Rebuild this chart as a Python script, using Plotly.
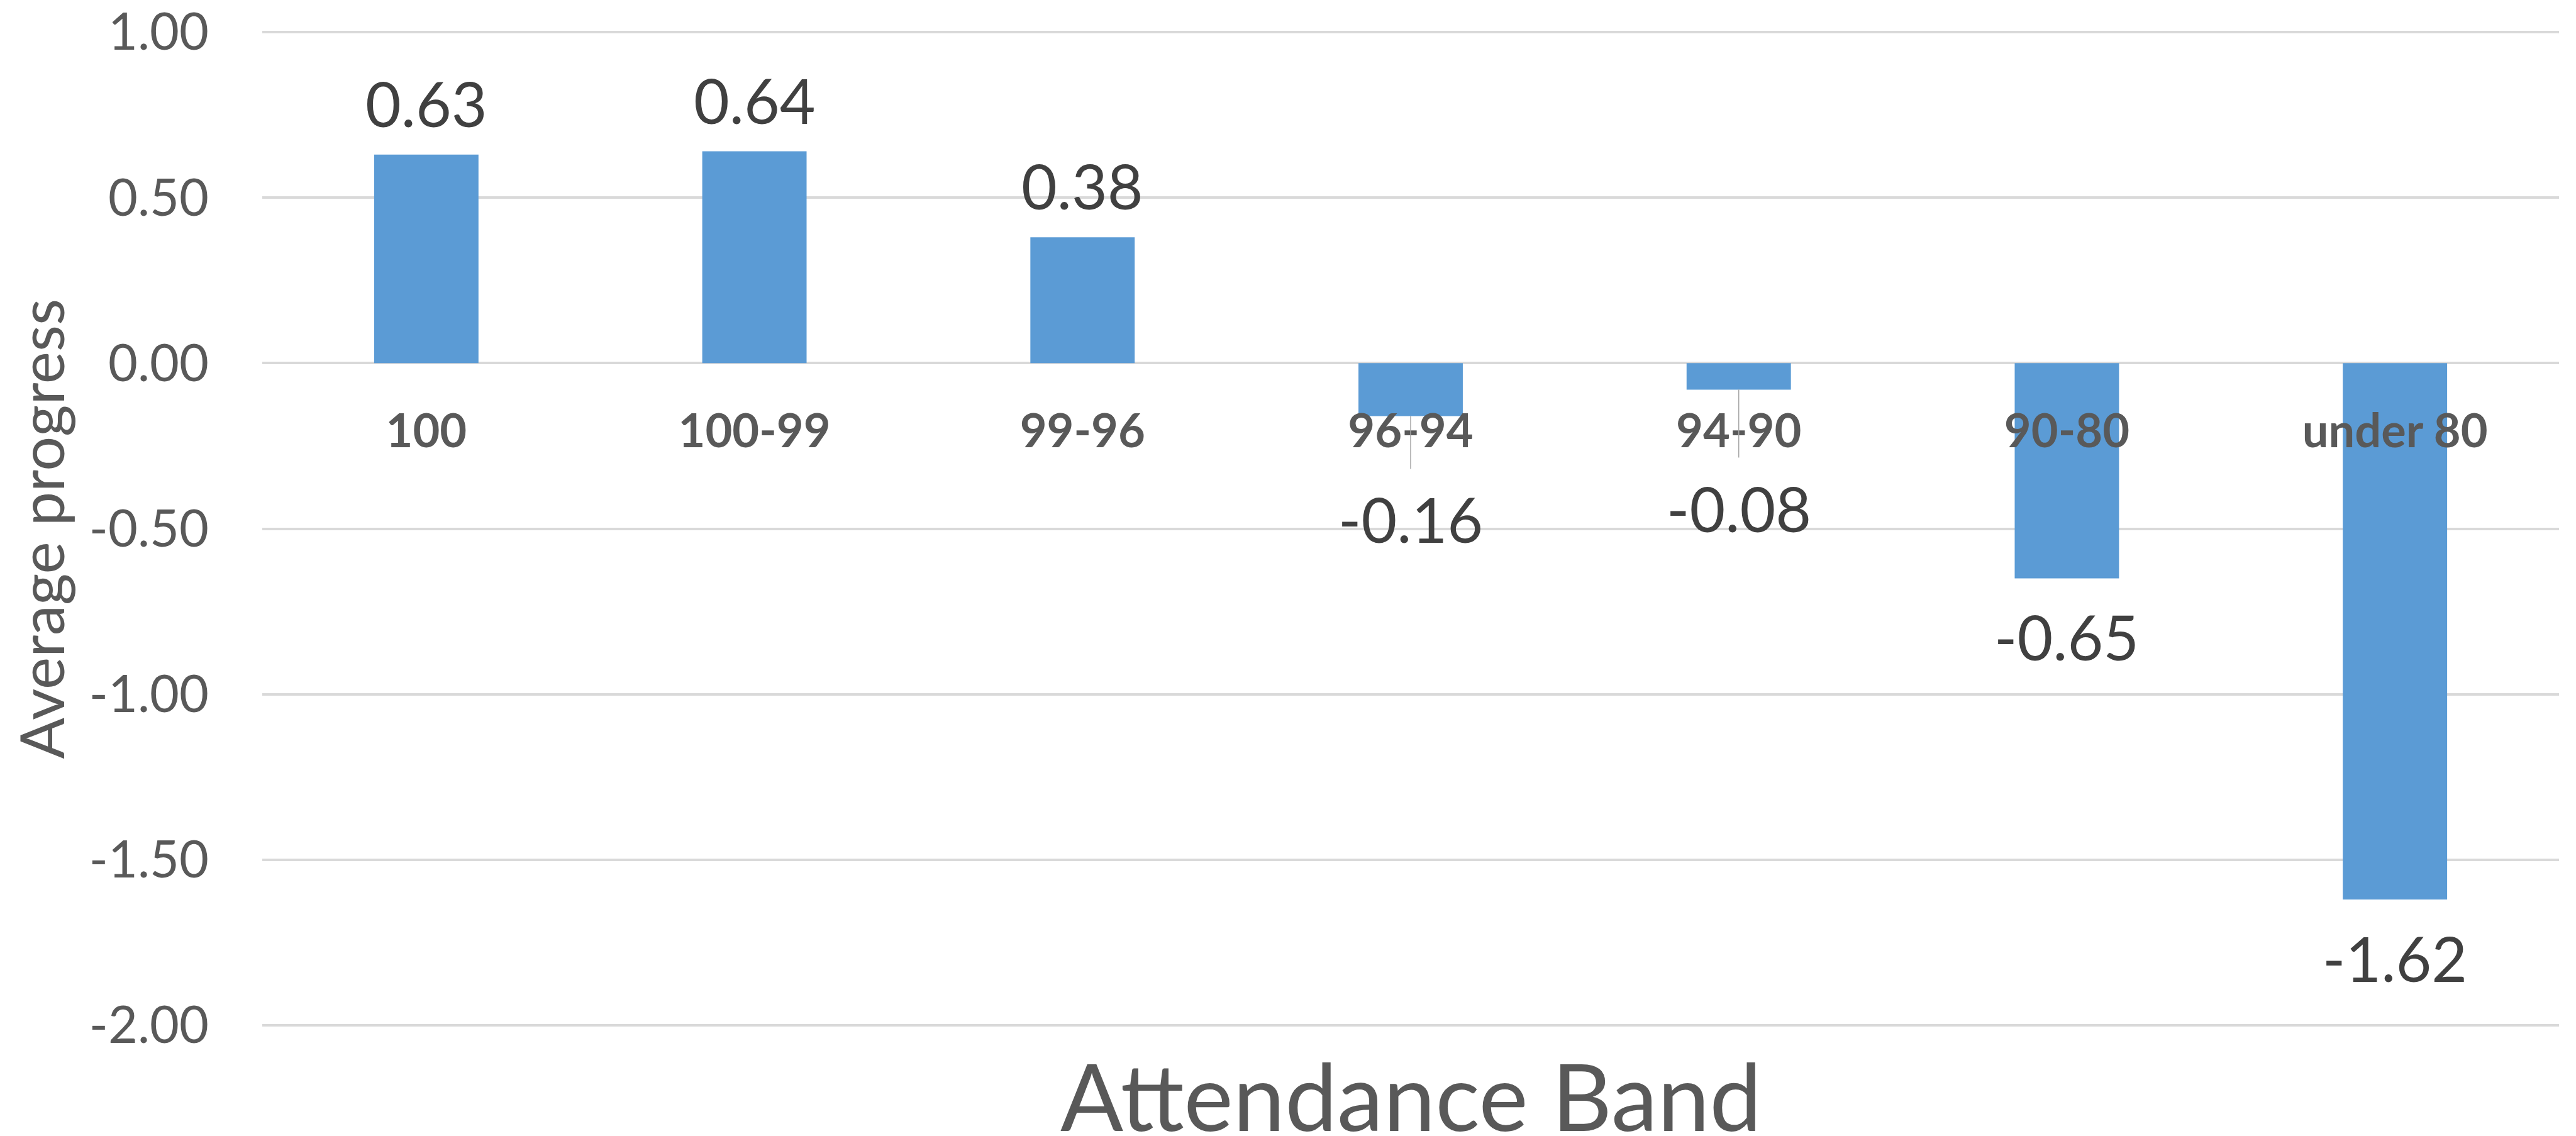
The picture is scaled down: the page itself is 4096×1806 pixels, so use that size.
import plotly.graph_objects as go

# ---- data ----
categories = ["100", "100-99", "99-96", "96-94", "94-90", "90-80", "under 80"]
values = [0.63, 0.64, 0.38, -0.16, -0.08, -0.65, -1.62]
y_tick_values = [1.0, 0.5, 0.0, -0.5, -1.0, -1.5, -2.0]
y_tick_labels = ["1.00", "0.50", "0.00", "-0.50", "-1.00", "-1.50", "-2.00"]
x_title = "Attendance Band"
y_title = "Average progress"

# ---- style / layout constants ----
W, H = 4096, 1806
ML, MR, MT, MB = 417, 27, 50, 175
FONT = "Lato"
BAR_COLOR = "#5B9BD5"
GRID = "#D9D9D9"
AXIS_TXT = "#595959"
LABEL_TXT = "#404040"
Y_MIN, Y_MAX = -2.0, 1.0
EPS = 0.002

# pixel offsets of value labels from the bar end (Excel default placement)
POS_SHIFT = 82
NEG_SHIFT = 93
# labels that were dragged further down in the source, with leader lines
MOVED_LABEL_SHIFT = {"96-94": 163, "94-90": 189}
LEADER_LEN = {"96-94": 84, "94-90": 108}

fig = go.Figure(
    go.Bar(
        x=categories,
        y=values,
        marker=dict(color=BAR_COLOR, line=dict(width=0)),
        hoverinfo="skip",
    )
)

annotations = []
shapes = []
for i, (cat, v) in enumerate(zip(categories, values)):
    if cat in MOVED_LABEL_SHIFT:
        shift = -MOVED_LABEL_SHIFT[cat]
    elif v >= 0:
        shift = POS_SHIFT
    else:
        shift = -NEG_SHIFT
    annotations.append(dict(
        x=i, y=v, xref="x", yref="y", text=f"{v:.2f}", showarrow=False,
        xanchor="center", yanchor="middle", yshift=shift,
        font=dict(family=FONT, size=98, color=LABEL_TXT),
    ))
    if cat in LEADER_LEN:
        shapes.append(dict(
            type="line", xref="x", yref="y", ysizemode="pixel", yanchor=v,
            x0=i, x1=i, y0=0, y1=-LEADER_LEN[cat],
            line=dict(color="#A6A6A6", width=1.5), layer="above",
        ))

# axis titles
annotations.append(dict(
    x=0.5, y=0, xref="paper", yref="paper", text=x_title, showarrow=False,
    xanchor="center", yanchor="middle", yshift=-110,
    font=dict(family=FONT, size=148, color=AXIS_TXT),
))
annotations.append(dict(
    x=0, y=0.5, xref="paper", yref="paper", text=y_title, showarrow=False,
    xanchor="center", yanchor="middle", xshift=64 - ML, textangle=-90,
    font=dict(family=FONT, size=97, color=AXIS_TXT),
))

zero_pos = (0 - Y_MIN) / (Y_MAX - Y_MIN)

fig.update_layout(
    width=W, height=H,
    margin=dict(l=ML, r=MR, t=MT, b=MB, pad=0, autoexpand=False),
    paper_bgcolor="white", plot_bgcolor="white",
    showlegend=False,
    bargap=0.682,
    annotations=annotations,
    shapes=shapes,
    xaxis=dict(
        type="category", anchor="free", position=zero_pos,
        range=[-0.5, len(categories) - 0.5], automargin=False,
        showgrid=False, zeroline=False, showline=False, ticks="",
        tickangle=0,
        tickfont=dict(family=FONT, size=74, color=AXIS_TXT, weight="bold"),
        ticklabelstandoff=59,
    ),
    yaxis=dict(
        range=[Y_MIN - EPS, Y_MAX + EPS], tickmode="array", automargin=False,
        tickvals=y_tick_values, ticktext=y_tick_labels,
        showgrid=True, gridcolor=GRID, gridwidth=4,
        zeroline=False, showline=False, ticks="",
        tickfont=dict(family=FONT, size=81, color=AXIS_TXT),
        ticklabelstandoff=84, ticklabeloverflow="allow",
    ),
)

fig.write_html("out.html")
